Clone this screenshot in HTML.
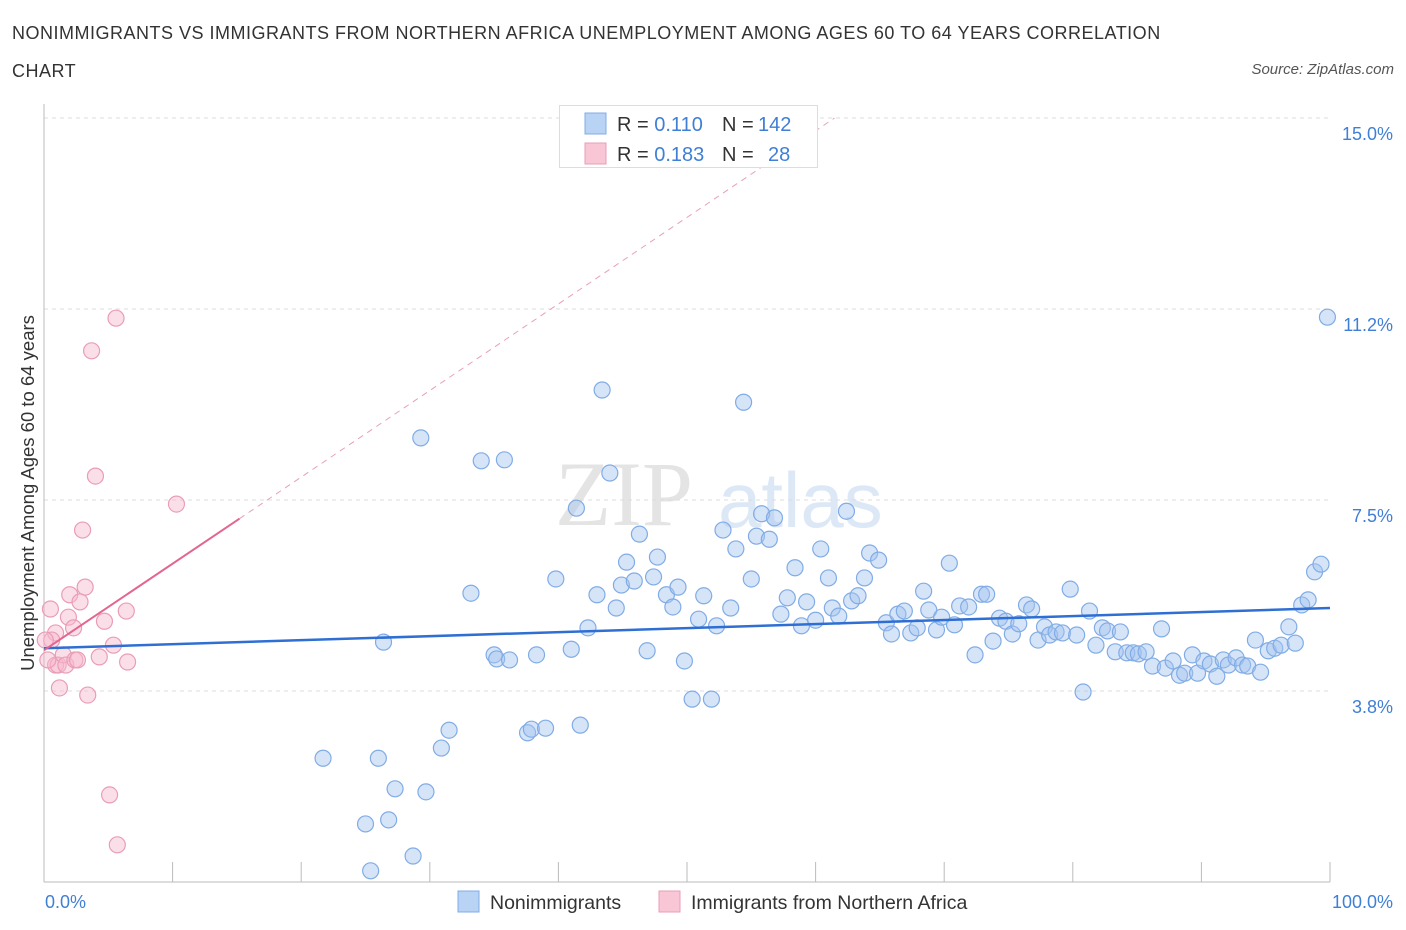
<!DOCTYPE html>
<html><head><meta charset="utf-8">
<style>
body{margin:0;background:#fff;font-family:"Liberation Sans",sans-serif;}
#wrap{position:relative;width:1406px;height:930px;overflow:hidden;}
.t{position:absolute;white-space:nowrap;}
</style></head>
<body>
<div id="wrap">
<div class="t" style="left:12px;top:14px;font-size:18px;letter-spacing:0.5px;color:#333;line-height:38px;width:1160px;white-space:normal;">NONIMMIGRANTS VS IMMIGRANTS FROM NORTHERN AFRICA UNEMPLOYMENT AMONG AGES 60 TO 64 YEARS CORRELATION CHART</div>
<div class="t" style="right:12px;top:61px;font-size:15px;color:#555;font-style:italic;">Source: ZipAtlas.com</div>
<svg id="chart" width="1406" height="930" style="position:absolute;left:0;top:0"></svg>
</div>
<script>
const blueX=[21.7,26.0,26.4,25.0,26.8,27.3,28.7,29.7,25.4,30.9,31.5,29.3,33.2,34.0,35.8,35.0,35.2,36.2,38.3,37.6,37.9,39.0,39.8,41.0,41.7,41.4,42.3,43.0,43.4,44.0,44.5,44.9,45.3,45.9,46.3,47.4,47.7,46.9,48.4,48.9,49.3,49.8,50.4,51.9,50.9,51.3,52.3,52.8,53.4,53.8,54.4,55.0,55.4,55.8,56.4,56.8,57.3,57.8,58.4,58.9,59.3,60.0,60.4,61.0,61.3,61.8,62.4,62.8,63.3,63.8,64.2,64.9,65.5,65.9,66.4,66.9,67.4,67.9,68.4,68.8,69.4,69.8,70.4,70.8,71.2,71.9,72.4,72.9,73.3,73.8,74.3,74.8,75.3,75.8,76.4,76.8,77.3,77.8,78.2,78.7,79.2,79.8,80.3,80.8,81.3,81.8,82.3,82.7,83.3,83.7,84.2,84.7,85.1,85.7,86.2,86.9,87.2,87.8,88.3,88.7,89.3,89.7,90.2,90.7,91.2,91.7,92.1,92.7,93.2,93.6,94.2,94.6,95.2,95.7,96.2,96.8,97.3,97.8,98.3,98.8,99.3,99.8];
const blueY=[2.43,2.43,4.71,1.14,1.22,1.83,0.51,1.77,0.22,2.63,2.98,8.72,5.67,8.27,8.29,4.46,4.38,4.36,4.46,2.93,3.00,3.02,5.95,4.57,3.08,7.34,4.99,5.64,9.66,8.03,5.38,5.83,6.28,5.91,6.83,5.99,6.38,4.54,5.64,5.40,5.79,4.34,3.59,3.59,5.16,5.62,5.03,6.91,5.38,6.54,9.42,5.95,6.79,7.23,6.73,7.15,5.26,5.58,6.17,5.03,5.50,5.14,6.54,5.97,5.38,5.22,7.28,5.52,5.62,5.97,6.46,6.32,5.09,4.87,5.26,5.32,4.89,4.99,5.71,5.34,4.95,5.20,6.26,5.05,5.42,5.40,4.46,5.65,5.65,4.73,5.18,5.12,4.87,5.07,5.44,5.36,4.75,5.01,4.85,4.91,4.89,5.75,4.85,3.73,5.32,4.65,4.99,4.93,4.52,4.91,4.50,4.50,4.48,4.52,4.24,4.97,4.20,4.34,4.06,4.10,4.46,4.10,4.34,4.28,4.04,4.36,4.26,4.40,4.26,4.24,4.75,4.12,4.54,4.59,4.65,5.01,4.69,5.44,5.54,6.09,6.24,11.09];
const pinkX=[0.5,0.9,0.6,0.9,1.1,1.2,1.5,1.7,1.9,2.0,2.3,2.4,2.6,2.8,3.0,3.2,3.4,3.7,4.0,4.3,4.7,5.1,5.4,5.6,5.7,6.4,6.5,10.3,0.1,0.3];
const pinkY=[5.36,4.89,4.75,4.26,4.26,3.81,4.46,4.26,5.20,5.64,4.99,4.36,4.36,5.50,6.91,5.79,3.67,10.43,7.97,4.42,5.12,1.71,4.65,11.07,0.73,5.32,4.32,7.42,4.75,4.36];
const blueTrend=[4.59,5.38];
const pinkTrend=[4.55,0.170];
const yTicks=[3.75,7.5,11.25,15];
const yTickLabels=["3.8%","7.5%","11.2%","15.0%"];

const L=44,R=1330,B=882,PX=12.86,PY=50.93;
const sx=v=>L+v*PX, sy=v=>B-v*PY;
const svg=document.getElementById('chart');
const NS='http://www.w3.org/2000/svg';
function mk(tag,at,parent){const e=document.createElementNS(NS,tag);for(const k in at)e.setAttribute(k,at[k]);(parent||svg).appendChild(e);return e;}

let wm=mk('text',{x:555,y:525,'font-size':92,'font-family':'Liberation Serif,serif',fill:'#e4e4e4'});wm.textContent='ZIP';


let wm2=mk('text',{x:718,y:527,'font-size':78,'font-family':'Liberation Sans,sans-serif',fill:'#dde8f6'});wm2.textContent='atlas';



yTicks.forEach((t,i)=>{
  const g=mk('line',{x1:L,x2:R,y1:sy(t),y2:sy(t),stroke:'#ddd','stroke-dasharray':'4,4'});
  
  
  const tx=mk('text',{x:1393,y:sy(t)+22,'text-anchor':'end','font-size':18,fill:'#3f7fd6'});tx.textContent=yTickLabels[i];
  
  
});
let ax=mk('line',{x1:L,x2:L,y1:104,y2:B,stroke:'#bbb'});


let bx=mk('line',{x1:L,x2:R,y1:B,y2:B,stroke:'#bbb'});


for(let i=0;i<=10;i++){
  const tk=mk('line',{x1:sx(i*10),x2:sx(i*10),y1:B-20,y2:B,stroke:'#bbb'});
  
  
}
let x0=mk('text',{x:45,y:908,'font-size':18,fill:'#3f7fd6'});x0.textContent='0.0%';


let x1=mk('text',{x:1393,y:908,'text-anchor':'end','font-size':18,fill:'#3f7fd6'});x1.textContent='100.0%';


let yt=mk('text',{x:34,y:493,'font-size':18.5,fill:'#333','text-anchor':'middle',transform:'rotate(-90 34 493)'});yt.textContent='Unemployment Among Ages 60 to 64 years';



blueX.forEach((v,i)=>{
  const c=mk('circle',{cx:sx(v),cy:sy(blueY[i]),r:8,fill:'rgba(164,196,240,0.45)',stroke:'#80ace6','stroke-width':1.2});
  
  
});
pinkX.forEach((v,i)=>{
  const c=mk('circle',{cx:sx(v),cy:sy(pinkY[i]),r:8,fill:'rgba(246,184,204,0.45)',stroke:'#ea9db6','stroke-width':1.2});
  
  
});

let bl=mk('line',{x1:sx(0),y1:sy(blueTrend[0]),x2:sx(100),y2:sy(blueTrend[1]),stroke:'#2f6fd4','stroke-width':2.5});


const pEnd=(15-pinkTrend[0])/pinkTrend[1];
let pd=mk('line',{x1:sx(15.2),y1:sy(pinkTrend[0]+pinkTrend[1]*15.2),x2:sx(pEnd),y2:sy(15),stroke:'#e8a0b5','stroke-width':1,'stroke-dasharray':'6,5'});


let lg=mk('rect',{x:559.5,y:105.5,width:258,height:62,fill:'#fff',stroke:'#ddd'});


let pl=mk('line',{x1:sx(0),y1:sy(pinkTrend[0]),x2:sx(15.2),y2:sy(pinkTrend[0]+pinkTrend[1]*15.2),stroke:'#e4668f','stroke-width':2});



[[0,'#b9d3f5','#80ace6','0.110','142'],[1,'#f9c6d6','#ea9db6','0.183',' 28']].forEach(([i,f,s,r,n])=>{
  const y=113+i*30;
  const sw=mk('rect',{x:585,y:y,width:21,height:21,fill:f,stroke:s});
  
  
  const t=mk('text',{x:617,y:y+18,'font-size':20,fill:'#333'});
  t.innerHTML='R = <tspan fill="#3f7fd6">'+r+'</tspan><tspan x="722">N = </tspan><tspan fill="#3f7fd6" x="'+(n.trim().length==3?758:768)+'">'+n.trim()+'</tspan>';
  
  
});

[[458,'#b9d3f5','#80ace6','Nonimmigrants','legend-nonimmigrants'],[659,'#f9c6d6','#ea9db6','Immigrants from Northern Africa','legend-immigrants']].forEach(([x,f,s,l,nm])=>{
  const r=mk('rect',{x:x,y:891,width:21,height:21,fill:f,stroke:s});
  
  
  const t=mk('text',{x:x+32,y:909,'font-size':19.5,fill:'#333'});t.textContent=l;
  
  
});
</script>
</body></html>
